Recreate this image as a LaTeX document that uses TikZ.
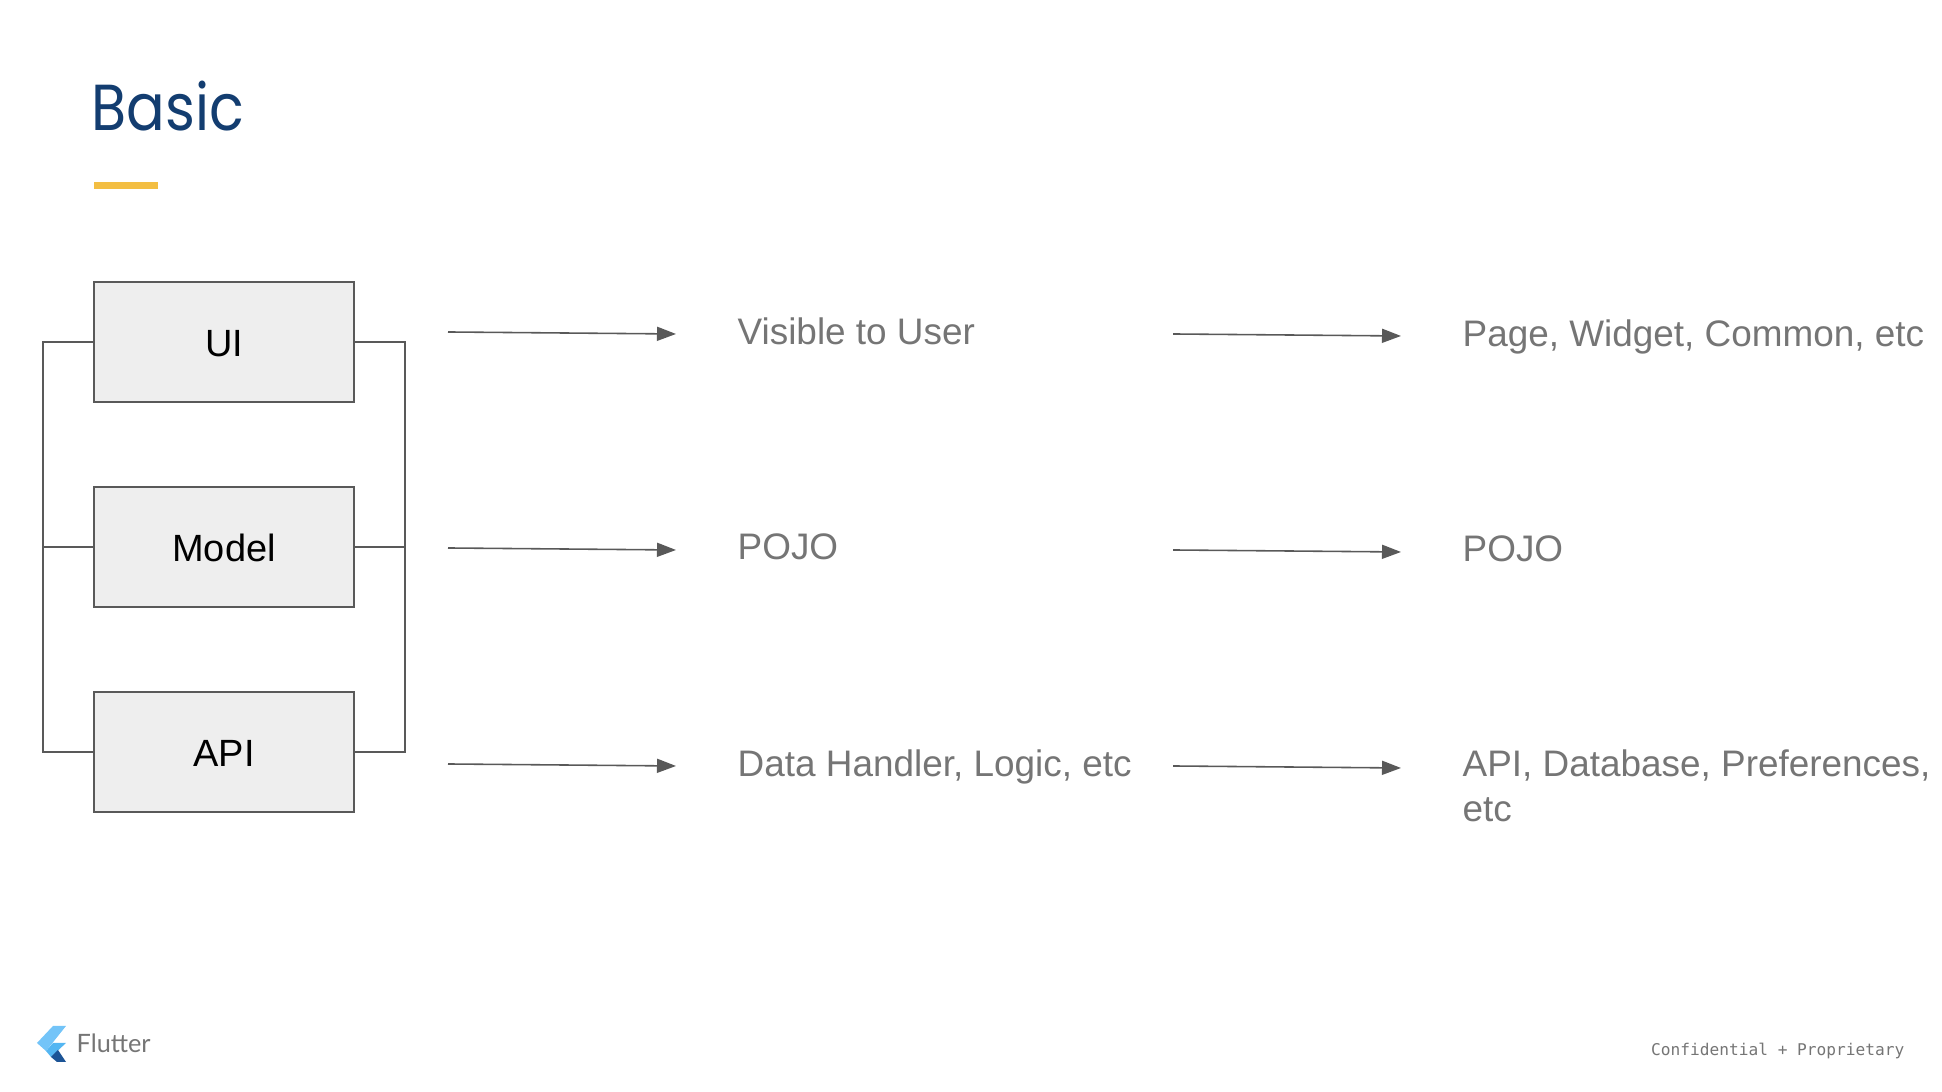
\documentclass[tikz,border=0pt]{standalone}
\usepackage{fontspec}
\setmainfont{Liberation Sans}
\newfontfamily\boxfont{Liberation Sans}
\newfontfamily\titlefont[FakeStretch=0.88]{Poppins}
\newfontfamily\logofont{Lato}
\newfontfamily\footfont{DejaVu Sans Mono}
\definecolor{flblue}{RGB}{19,61,112}
\definecolor{flyellow}{RGB}{243,190,66}
\definecolor{flgray}{RGB}{117,117,117}
\definecolor{fldark}{RGB}{89,89,89}
\definecolor{flbox}{RGB}{238,238,238}
\definecolor{flsky}{RGB}{115,196,248}
\definecolor{flsky2}{RGB}{84,182,242}
\definecolor{flnavy}{RGB}{28,84,150}
\usetikzlibrary{arrows.meta,positioning}

\begin{document}
\begin{tikzpicture}[
  flayer/.style={draw=fldark,fill=flbox,line width=0.5pt,minimum width=2.6cm,minimum height=1.2cm,
    align=center,font=\boxfont\fontsize{10.8}{14}\selectfont,text=black,text height=8.4pt},
  flrail/.style={draw=fldark,line width=0.45pt},
  flarr/.style={-{Triangle[length=0.19cm,width=0.14cm]},draw=fldark,fill=fldark,line width=0.45pt},
  fltext/.style={anchor=west,align=left,inner sep=0pt,text=flgray,font=\fontsize{10.5}{12.8}\selectfont}
]
  \useasboundingbox (0,0) rectangle (19.42,10.92);

  % Title
  \node[anchor=base west,inner sep=0pt,text=flblue,font=\titlefont\fontsize{18.5}{20}\selectfont] (title) at (0.91,9.61) {Basic};
  \fill[flyellow] (0.94,9.03) rectangle (1.58,9.10);

  % Layers
  \node[flayer] (ui) at (2.24,7.50) {UI};
  \node[flayer] (model) at (2.24,5.45) {Model};
  \node[flayer] (api) at (2.24,3.40) {API};

  % Rails
  \coordinate (lefttop) at (0.43,7.50);
  \coordinate (leftmid) at (0.43,5.45);
  \coordinate (leftbot) at (0.43,3.40);
  \coordinate (righttop) at (4.05,7.50);
  \coordinate (rightmid) at (4.05,5.45);
  \coordinate (rightbot) at (4.05,3.40);
  \draw[flrail] (ui.west) -- (lefttop) -- (leftbot) -- (api.west);
  \draw[flrail] (model.west) -- (leftmid);
  \draw[flrail] (ui.east) -- (righttop) -- (rightbot) -- (api.east);
  \draw[flrail] (model.east) -- (rightmid);

  % Middle column
  \node[fltext] (visible) at (7.37,7.61) {Visible to User};
  \node[fltext] (pojoa) at (7.37,5.45) {POJO};
  \node[fltext] (handler) at (7.37,3.25) {Data Handler, Logic, etc};

  % Right column
  \node[fltext] (page) at (14.62,7.555) {Page, Widget, Common, etc};
  \node[fltext] (pojob) at (14.62,5.43) {POJO};
  \node[fltext,anchor=north west] (database) at (14.62,3.425) {API, Database, Preferences,\\etc};

  % Arrows, first column
  \coordinate (a1s) at (4.48,7.60);
  \coordinate (a1e) at (6.76,7.58);
  \coordinate (a2s) at (4.48,5.44);
  \coordinate (a2e) at (6.76,5.42);
  \coordinate (a3s) at (4.48,3.28);
  \coordinate (a3e) at (6.76,3.26);
  \draw[flarr] (a1s) -- (a1e);
  \draw[flarr] (a2s) -- (a2e);
  \draw[flarr] (a3s) -- (a3e);

  % Arrows, second column
  \coordinate (b1s) at (11.73,7.58);
  \coordinate (b1e) at (14.01,7.56);
  \coordinate (b2s) at (11.73,5.42);
  \coordinate (b2e) at (14.01,5.40);
  \coordinate (b3s) at (11.73,3.26);
  \coordinate (b3e) at (14.01,3.24);
  \draw[flarr] (b1s) -- (b1e);
  \draw[flarr] (b2s) -- (b2e);
  \draw[flarr] (b3s) -- (b3e);

  % Footer
  \fill[flsky] (0.53,0.66) -- (0.66,0.66) -- (0.46,0.41) -- (0.37,0.49) -- cycle;
  \fill[flsky2] (0.66,0.49) -- (0.53,0.49) -- (0.46,0.41) -- (0.51,0.35) -- cycle;
  \fill[flnavy] (0.51,0.35) -- (0.58,0.42) -- (0.66,0.30) -- (0.57,0.30) -- cycle;
  \node[anchor=base west,inner sep=0pt,text=flgray,font=\logofont\fontsize{7.2}{9}\selectfont] (flutter) at (0.76,0.39) {Flutter};
  \node[anchor=base east,inner sep=0pt,text=flgray,font=\footfont\fontsize{4.6}{6}\selectfont] (conf) at (19.05,0.36) {Confidential + Proprietary};
\end{tikzpicture}
\end{document}
